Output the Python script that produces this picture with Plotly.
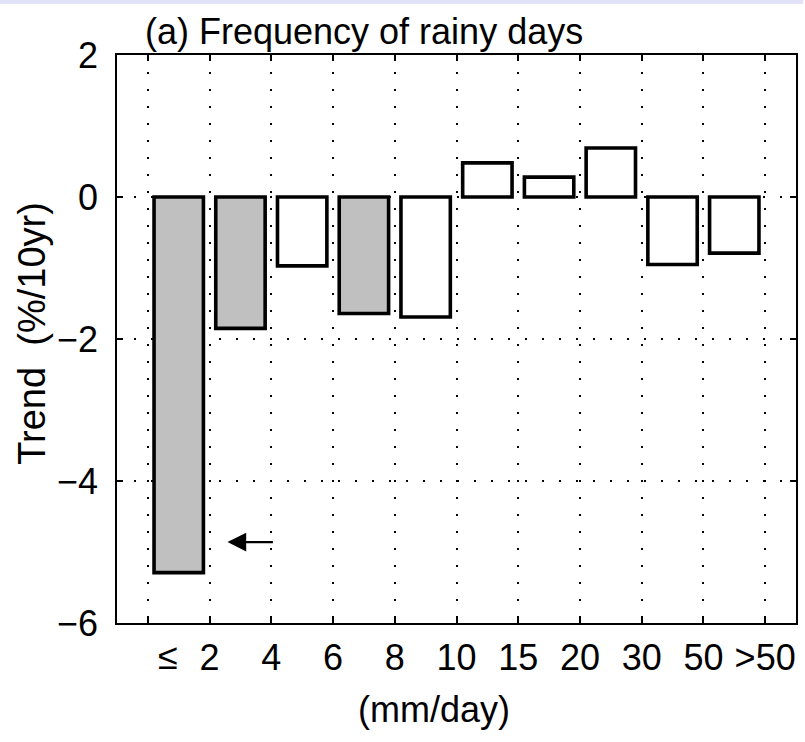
import plotly.graph_objects as go

# Data
bins = ["≤2", "2-4", "4-6", "6-8", "8-10", "10-15", "15-20", "20-30", "30-50", ">50"]
trend = [-5.29, -1.85, -0.97, -1.64, -1.69, 0.48, 0.28, 0.69, -0.95, -0.79]
significant = [True, True, False, True, False, False, False, False, False, False]
tick_vals = [0, 1, 2, 3, 4, 5, 6, 7, 8, 9, 10]
tick_text = ["", "2", "4", "6", "8", "10", "15", "20", "30", "50", ">50"]
y_ticks = [-6, -4, -2, 0, 2]

FONT = "Liberation Sans, Arial, sans-serif"
x_centers = [i + 0.5 for i in range(len(bins))]
fills = ["#c0c0c0" if s else "#ffffff" for s in significant]

fig = go.Figure()
fig.add_trace(go.Bar(
    x=x_centers, y=trend, width=0.8,
    marker=dict(color=fills, line=dict(color="black", width=3.6)),
    text=bins, hoverinfo="text+y", textposition="none",
))

grid_dash = "2px,15px"
fig.update_layout(
    width=805, height=742,
    margin=dict(l=117, r=7, t=55, b=119),
    paper_bgcolor="white", plot_bgcolor="white",
    showlegend=False,
    font=dict(family=FONT, size=36, color="black"),
    xaxis=dict(
        range=[-0.5, 10.5], tickvals=tick_vals, ticktext=tick_text,
        showgrid=True, gridcolor="black", gridwidth=1.8, griddash=grid_dash,
        zeroline=False, showline=True, linecolor="black", linewidth=1.5,
        mirror="ticks", ticks="inside", ticklen=6, tickwidth=1.5, tickcolor="black",
        ticklabelstandoff=2,
        tickfont=dict(family=FONT, size=36, color="black"),
    ),
    yaxis=dict(
        range=[-6, 2], tickvals=y_ticks,
        ticktext=["\u22126", "\u22124", "\u22122", "0", "2"],
        showgrid=True, gridcolor="black", gridwidth=1.8, griddash=grid_dash,
        zeroline=False, showline=True, linecolor="black", linewidth=1.5,
        mirror="ticks", ticks="inside", ticklen=6, tickwidth=1.5, tickcolor="black",
        ticklabelstandoff=10,
        tickfont=dict(family=FONT, size=36, color="black"),
    ),
    bargap=0.2,
)

# light top band
fig.add_shape(type="rect", xref="paper", yref="paper",
              x0=-0.1724, x1=1.0107, y0=1.0898, y1=1.0968,
              line=dict(width=0), fillcolor="#e2e2f8", layer="above")

annotations = [
    dict(text="(a) Frequency of rainy days", xref="paper", yref="paper",
         x=(143 - 117.3) / 680.4, y=(623.3 - 31) / 568.3, xanchor="left", yanchor="middle",
         showarrow=False, font=dict(family=FONT, size=36, color="black")),
    dict(text="Trend  (%/10yr)", xref="paper", yref="paper", textangle=-90,
         x=(32 - 117.3) / 680.4, y=(623.3 - 333) / 568.3, xanchor="center", yanchor="middle",
         showarrow=False, font=dict(family=FONT, size=38, color="black")),
    dict(text="(mm/day)", xref="paper", yref="paper",
         x=(435 - 117.3) / 680.4, y=(623.3 - 710) / 568.3, xanchor="center", yanchor="middle",
         showarrow=False, font=dict(family=FONT, size=36, color="black")),
    dict(text="≤", xref="x", yref="paper",
         x=0.32, y=(623.3 - 657) / 568.3, xanchor="center", yanchor="middle",
         showarrow=False, font=dict(family=FONT, size=36, color="black")),
    dict(text="", xref="x", yref="y", x=1.29, y=-4.86, ax=2.05, ay=-4.86,
         axref="x", ayref="y", showarrow=True, arrowhead=2, arrowsize=1.7,
         arrowwidth=2.2, arrowcolor="black"),
]
fig.update_layout(annotations=annotations)

fig.write_html("out.html")
